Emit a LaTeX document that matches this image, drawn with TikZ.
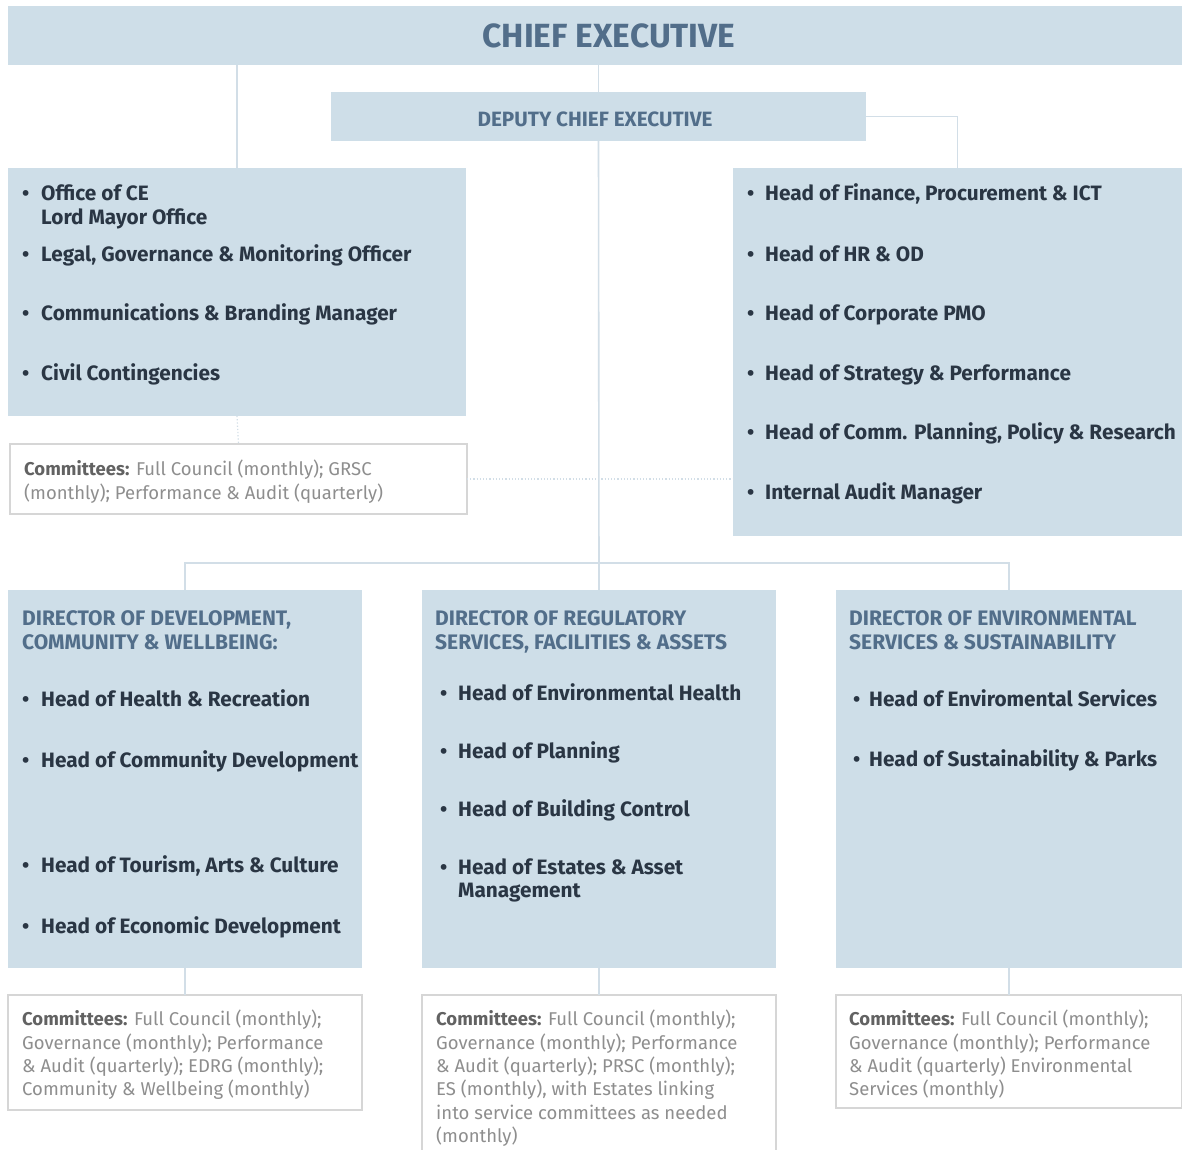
\documentclass[tikz,border=0pt]{standalone}
\usepackage{fontspec}
\setmainfont{Fira Sans}
\usepackage{tikz}
\usetikzlibrary{positioning}
\definecolor{boxblue}{RGB}{206,222,232}
\definecolor{linkblue}{RGB}{210,222,231}
\definecolor{headblue}{RGB}{82,110,138}
\definecolor{itemdark}{RGB}{42,54,68}
\definecolor{commgray}{RGB}{142,142,142}
\definecolor{commdark}{RGB}{98,98,98}
\definecolor{commline}{RGB}{214,214,214}
\tikzset{bluebox/.style = {fill=boxblue, inner sep=0, outer sep=0}}
\tikzset{commbox/.style = {fill=white, draw=commline, line width=1.5pt, inner sep=0, outer sep=0}}
\tikzset{link/.style = {draw=linkblue, line width=1.6pt}}
\tikzset{faint/.style = {draw=linkblue, line width=1.2pt, dotted}}
\tikzset{item/.style = {anchor=base west, inner sep=0, text=itemdark, font=\fontsize{20.8}{24}\selectfont\bfseries}}
\tikzset{dirhead/.style = {anchor=north west, inner sep=0, align=left, text=headblue, font=\fontsize{21}{24}\selectfont\bfseries}}
\tikzset{commtext/.style = {anchor=north west, inner sep=0, align=left, text=commgray, font=\fontsize{18.5}{23.3}\selectfont}}
\newcommand{\itembul}[1][19pt]{\makebox[#1][l]{\textbullet}}
\newcommand{\commlabel}{{\bfseries\color{commdark}Committees:}}

\begin{document}
\begin{tikzpicture}[x=1pt, y=-1pt]
    \fill [white] (0, 0) rectangle (1182, 1149);
    \useasboundingbox (0, 0) rectangle (1182, 1149);

    % top of the chart
    \node [bluebox, minimum width=1174, minimum height=59] (ce) at (595, 35.5) {};
    \node [text=headblue, font=\fontsize{33.5}{36}\selectfont\bfseries] (cetxt) at (609, 36) {CHIEF EXECUTIVE};
    \node [bluebox, minimum width=535, minimum height=49] (deputy) at (598.5, 116.5) {};
    \node [text=headblue, font=\fontsize{20.7}{23}\selectfont\bfseries] (deputytxt) at (595, 119) {DEPUTY CHIEF EXECUTIVE};

    \node [bluebox, minimum width=458, minimum height=248] (ceoffice) at (237, 292) {};
    \node [bluebox, minimum width=449, minimum height=368] (corp) at (957.5, 352) {};
    \node [commbox, minimum width=457, minimum height=70] (cecomm) at (238.5, 479) {};

    % directors and their committees
    \node [bluebox, minimum width=354, minimum height=378] (devdir) at (185, 779) {};
    \node [bluebox, minimum width=354, minimum height=378] (regdir) at (599, 779) {};
    \node [bluebox, minimum width=346, minimum height=378] (envdir) at (1009, 779) {};
    \node [commbox, minimum width=354, minimum height=115] (devcomm) at (185, 1052.5) {};
    \node [commbox, minimum width=354, minimum height=170] (regcomm) at (599, 1080) {};
    \node [commbox, minimum width=346, minimum height=113] (envcomm) at (1009, 1051.5) {};

    % connectors
    \draw [link] (ce.south -| ceoffice.north) -- (ceoffice.north);
    \draw [link] (ce.south -| deputy.north) -- (deputy.north);
    \draw [link] (deputy.east) -| (corp.north);
    \draw [link] (deputy.south) -- (regdir.north);
    \coordinate (bus) at (599, 563);
    \draw [link] (devdir.north) |- (bus) -| (envdir.north);
    \draw [faint] (ceoffice.south) -- (cecomm.north);
    \draw [faint] (cecomm.east) -- (cecomm.east -| corp.west);
    \foreach \d in {dev, reg, env}{
      \draw [link, line width=1.2pt] (\d dir.south) -- (\d comm.north);
    }

    % office of the chief executive
    \node [item] (ce-0) at (22, 200) {\itembul Office of CE};
    \node [item] (ce-00) at (41, 224) {Lord Mayor Office};
    \foreach \yy/\txt [count=\i] in {261/{Legal, Governance \& Monitoring Officer},
        320/{Communications \& Branding Manager}, 380/{Civil Contingencies}}{
      \node [item] (ce-\i) at (22, \yy) {\itembul\txt};
    }
    \node [commtext] (cecommtxt) at (24, 460) {\commlabel{} Full Council (monthly); GRSC\\(monthly); Performance \& Audit (quarterly)};

    % corporate heads
    \foreach \yy/\txt [count=\i] in {200/{Head of Finance, Procurement \& ICT}, 261/{Head of HR \& OD},
        320/{Head of Corporate PMO}, 380/{Head of Strategy \& Performance},
        439/{Head of Comm. Planning, Policy \& Research}, 499/{Internal Audit Manager}}{
      \node [item] (corp-\i) at (747, \yy) {\itembul[18pt]\txt};
    }

    % development, community & wellbeing
    \node [dirhead] (devhead) at (22, 610) {DIRECTOR OF DEVELOPMENT,\\COMMUNITY \& WELLBEING:};
    \foreach \yy/\txt [count=\i] in {706/{Head of Health \& Recreation}, 767/{Head of Community Development},
        872/{Head of Tourism, Arts \& Culture}, 933/{Head of Economic Development}}{
      \node [item] (dev-\i) at (22, \yy) {\itembul\txt};
    }
    \node [commtext] (devcommtxt) at (22, 1010) {\commlabel{} Full Council (monthly);\\Governance (monthly); Performance\\\& Audit (quarterly); EDRG (monthly);\\Community \& Wellbeing (monthly)};

    % regulatory services, facilities & assets
    \node [dirhead] (reghead) at (435, 610) {DIRECTOR OF REGULATORY\\SERVICES, FACILITIES \& ASSETS};
    \foreach \yy/\txt [count=\i] in {700/{Head of Environmental Health}, 758/{Head of Planning},
        816/{Head of Building Control}, 874/{Head of Estates \& Asset}}{
      \node [item] (reg-\i) at (440, \yy) {\itembul[18pt]\txt};
    }
    \node [item] (reg-5) at (458, 897) {Management};
    \node [commtext] (regcommtxt) at (436, 1010) {\commlabel{} Full Council (monthly);\\Governance (monthly); Performance\\\& Audit (quarterly); PRSC (monthly);\\ES (monthly), with Estates linking\\into service committees as needed\\(monthly)};

    % environmental services & sustainability
    \node [dirhead] (envhead) at (849, 610) {DIRECTOR OF ENVIRONMENTAL\\SERVICES \& SUSTAINABILITY};
    \foreach \yy/\txt [count=\i] in {706/{Head of Enviromental Services}, 766/{Head of Sustainability \& Parks}}{
      \node [item] (env-\i) at (853, \yy) {\itembul[16pt]\txt};
    }
    \node [commtext] (envcommtxt) at (849, 1010) {\commlabel{} Full Council (monthly);\\Governance (monthly); Performance\\\& Audit (quarterly) Environmental\\Services (monthly)};
\end{tikzpicture}
\end{document}
